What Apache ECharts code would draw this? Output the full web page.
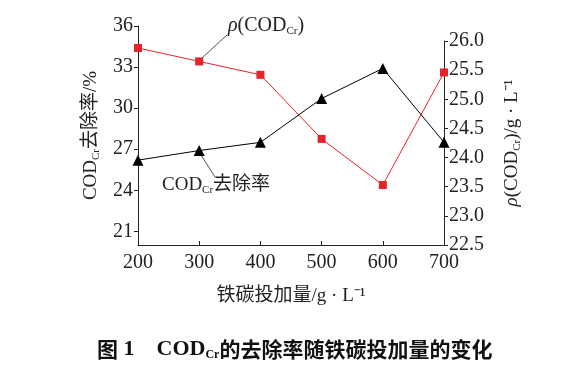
<!DOCTYPE html>
<html><head><meta charset="utf-8">
<script src="https://cdn.jsdelivr.net/npm/echarts@6/dist/echarts.min.js"></script>
<style>html,body{margin:0;padding:0;background:#fff}#c{width:568px;height:371px}</style>
</head><body><div id="c"></div>
<script>
const dosage = [200, 300, 400, 500, 600, 700];
const removalRate = [26.2, 26.9, 27.5, 30.7, 32.9, 27.5];
const codConc = [25.88, 25.65, 25.42, 24.32, 23.53, 25.46];
const leftTicks = [21, 24, 27, 30, 33, 36];
const rightTicks = [22.5, 23.0, 23.5, 24.0, 24.5, 25.0, 25.5, 26.0];

const SERIF = '"Liberation Serif","Noto Sans CJK SC",serif';
const sub = {fontFamily: SERIF, fontSize: 11, color: '#222', padding: [10, 0, 0, 0]};
const chart = echarts.init(document.getElementById('c'));
const axisCommon = {
  axisLine: {show: true, lineStyle: {color: '#222', width: 1}},
  splitLine: {show: false},
};
chart.setOption({
  animation: false,
  grid: [
    {left: 138, right: 124, top: 26, bottom: 126},
    {left: 138, right: 124, top: 41, bottom: 126}
  ],
  xAxis: [
    Object.assign({}, axisCommon, {
      type: 'value', gridIndex: 0, min: 200, max: 700, interval: 100,
      axisTick: {show: true, inside: true, length: 4, lineStyle: {color: '#222'}},
      axisLabel: {color: '#222', fontFamily: SERIF, fontSize: 20, margin: 8},
      name: '铁碳投加量/g · L⁻¹', nameLocation: 'middle', nameGap: 42,
      nameTextStyle: {color: '#222', fontFamily: SERIF, fontSize: 19}
    }),
    {type: 'value', gridIndex: 1, min: 200, max: 700, show: false}
  ],
  yAxis: [
    Object.assign({}, axisCommon, {
      type: 'value', gridIndex: 0, min: 20, max: 36, position: 'left',
      axisTick: {show: true, length: 4, customValues: leftTicks, lineStyle: {color: '#222'}},
      axisLabel: {color: '#222', fontFamily: SERIF, fontSize: 20, margin: 5, customValues: leftTicks},
      name: '{n|COD}{s|Cr}{n|去除率/%}', nameLocation: 'middle', nameGap: 36, nameRotate: 90,
      nameTextStyle: {rich: {n: {fontFamily: SERIF, fontSize: 19, color: '#222'}, s: sub}}
    }),
    Object.assign({}, axisCommon, {
      type: 'value', gridIndex: 1, min: 22.5, max: 26.0, interval: 0.5, position: 'right',
      axisTick: {show: true, length: 4, lineStyle: {color: '#222'}},
      axisLabel: {color: '#222', fontFamily: SERIF, fontSize: 20, margin: 5,
        formatter: v => v.toFixed(1)},
      name: '{i|ρ}{n|(COD}{s|Cr}{n|)/g · L⁻¹}', nameLocation: 'middle', nameGap: 58, nameRotate: 90,
      nameTextStyle: {rich: {n: {fontFamily: SERIF, fontSize: 19, color: '#222'},
        i: {fontFamily: SERIF, fontSize: 19, fontStyle: 'italic', color: '#222'}, s: sub}}
    })
  ],
  series: [
    {type: 'line', xAxisIndex: 0, yAxisIndex: 0, data: dosage.map((d, i) => [d, removalRate[i]]),
      symbol: 'triangle', symbolSize: 11, itemStyle: {color: '#000'},
      lineStyle: {color: '#000', width: 1}, z: 3},
    {type: 'line', xAxisIndex: 1, yAxisIndex: 1, data: dosage.map((d, i) => [d, codConc[i]]),
      symbol: 'rect', symbolSize: 8, itemStyle: {color: '#e3242b'},
      lineStyle: {color: '#e3242b', width: 1}, z: 2}
  ],
  graphic: [
    {type: 'line', shape: {x1: 202, y1: 58, x2: 227, y2: 35}, style: {stroke: '#222', lineWidth: 0.8}},
    {type: 'text', left: 228, top: 16, style: {rich: {
        i: {fontFamily: SERIF, fontSize: 20, fontStyle: 'italic', fill: '#222'},
        n: {fontFamily: SERIF, fontSize: 20, fill: '#222'},
        s: {fontFamily: SERIF, fontSize: 11, fill: '#222', padding: [11, 0, 0, 0]}},
      text: '{i|ρ}{n|(COD}{s|Cr}{n|)}'}},
    {type: 'line', shape: {x1: 201, y1: 155, x2: 215, y2: 177}, style: {stroke: '#222', lineWidth: 0.8}},
    {type: 'text', left: 162, top: 176, style: {rich: {
        n: {fontFamily: SERIF, fontSize: 19, fill: '#222'},
        s: {fontFamily: SERIF, fontSize: 11, fill: '#222', padding: [10, 0, 0, 0]}},
      text: '{n|COD}{s|Cr}{n|去除率}'}},
    {type: 'text', left: 97, top: 338, style: {rich: {
        b: {fontFamily: '"Noto Sans CJK SC",sans-serif', fontSize: 21, fontWeight: 'bold', fill: '#111'},
        t: {fontFamily: '"Liberation Serif",serif', fontSize: 22, fontWeight: 'bold', fill: '#111'},
        s: {fontFamily: '"Liberation Serif",serif', fontSize: 12, fontWeight: 'bold', fill: '#111', padding: [11, 0, 0, 0]}},
      text: '{b|图}{t| 1    COD}{s|Cr}{b|的去除率随铁碳投加量的变化}'}}
  ]
});
</script></body></html>
